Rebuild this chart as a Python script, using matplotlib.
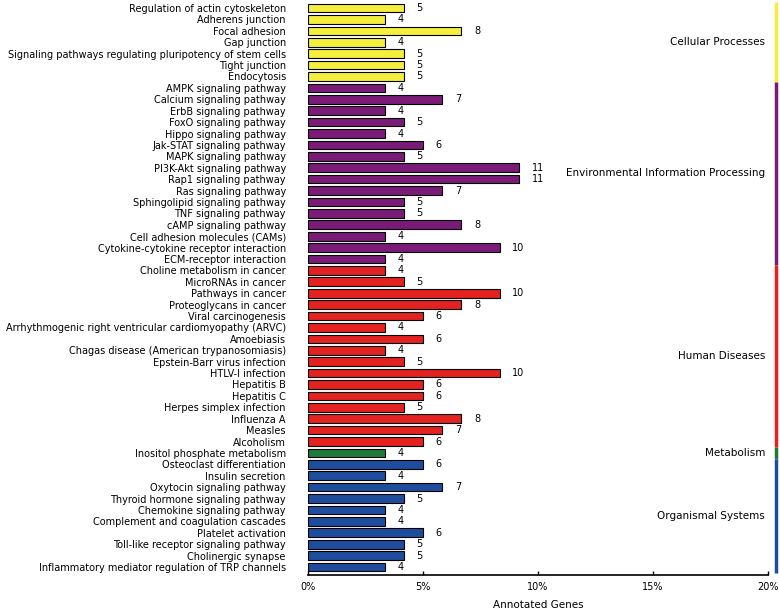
import numpy as np
import matplotlib
matplotlib.use('Agg')
import matplotlib.pyplot as plt
import matplotlib.transforms as mtransforms

# KEGG pathway annotation, top to bottom
pathways = [
    'Regulation of actin cytoskeleton', 'Adherens junction', 'Focal adhesion', 'Gap junction',
    'Signaling pathways regulating pluripotency of stem cells', 'Tight junction', 'Endocytosis',
    'AMPK signaling pathway', 'Calcium signaling pathway', 'ErbB signaling pathway',
    'FoxO signaling pathway', 'Hippo signaling pathway', 'Jak-STAT signaling pathway',
    'MAPK signaling pathway', 'PI3K-Akt signaling pathway', 'Rap1 signaling pathway',
    'Ras signaling pathway', 'Sphingolipid signaling pathway', 'TNF signaling pathway',
    'cAMP signaling pathway', 'Cell adhesion molecules (CAMs)',
    'Cytokine-cytokine receptor interaction', 'ECM-receptor interaction',
    'Choline metabolism in cancer', 'MicroRNAs in cancer', 'Pathways in cancer',
    'Proteoglycans in cancer', 'Viral carcinogenesis',
    'Arrhythmogenic right ventricular cardiomyopathy (ARVC)', 'Amoebiasis',
    'Chagas disease (American trypanosomiasis)', 'Epstein-Barr virus infection',
    'HTLV-I infection', 'Hepatitis B', 'Hepatitis C', 'Herpes simplex infection',
    'Influenza A', 'Measles', 'Alcoholism',
    'Inositol phosphate metabolism',
    'Osteoclast differentiation', 'Insulin secretion', 'Oxytocin signaling pathway',
    'Thyroid hormone signaling pathway', 'Chemokine signaling pathway',
    'Complement and coagulation cascades', 'Platelet activation',
    'Toll-like receptor signaling pathway', 'Cholinergic synapse',
    'Inflammatory mediator regulation of TRP channels',
]
genes = [5, 4, 8, 4, 5, 5, 5,
         4, 7, 4, 5, 4, 6, 5, 11, 11, 7, 5, 5, 8, 4, 10, 4,
         4, 5, 10, 8, 6, 4, 6, 4, 5, 10, 6, 6, 5, 8, 7, 6,
         4,
         6, 4, 7, 5, 4, 4, 6, 5, 5, 4]
total_genes = 120

classes = ['Cellular Processes', 'Environmental Information Processing',
           'Human Diseases', 'Metabolism', 'Organismal Systems']
class_sizes = [7, 16, 16, 1, 10]
class_colors = ['#f4ee3c', '#7a1b78', '#e4221f', '#1d7a3b', '#1e4d9e']

pct = np.array(genes) / total_genes * 100
ypos = np.arange(len(pathways))
bar_colors = []
for c, n in zip(class_colors, class_sizes):
    bar_colors += [c] * n

fig = plt.figure(figsize=(7.8, 6.12), dpi=100)
ax = fig.add_axes([308 / 780, 1 - 575 / 612, 460 / 780, 573 / 612])

ax.barh(ypos, pct, height=0.76, color=bar_colors, edgecolor='black', linewidth=0.8)
for y, p, g in zip(ypos, pct, genes):
    ax.text(p + 0.55, y, str(g), va='center', ha='left', fontsize=7)

ax.set_xlim(0, 20)
ax.set_ylim(49.7, -0.53)
ax.set_yticks(ypos)
ax.set_yticklabels(pathways, fontsize=7)
ax.tick_params(axis='y', length=0, pad=16)
ax.set_xticks([0, 5, 10, 15, 20])
ax.set_xticklabels(['0%', '5%', '10%', '15%', '20%'], fontsize=7)
ax.tick_params(axis='x', direction='in', length=3, width=1, pad=5)
ax.set_xlabel('Annotated Genes', fontsize=7.5, labelpad=6)
for s in ['left', 'right', 'top']:
    ax.spines[s].set_visible(False)
ax.spines['bottom'].set_linewidth(1.2)

# class bands on the right
trans = mtransforms.blended_transform_factory(ax.transAxes, ax.transData)
start = 0
for name, n, c in zip(classes, class_sizes, class_colors):
    y0, y1 = start - 0.5, start + n - 0.5
    ax.plot([1.017, 1.017], [y0, y1], color=c, lw=2.5, transform=trans,
            clip_on=False, solid_capstyle='butt')
    ax.text(0.9935, (y0 + y1) / 2, name, transform=trans, ha='right', va='center',
            fontsize=7.5)
    start += n

fig.savefig('out.png', dpi=100)
